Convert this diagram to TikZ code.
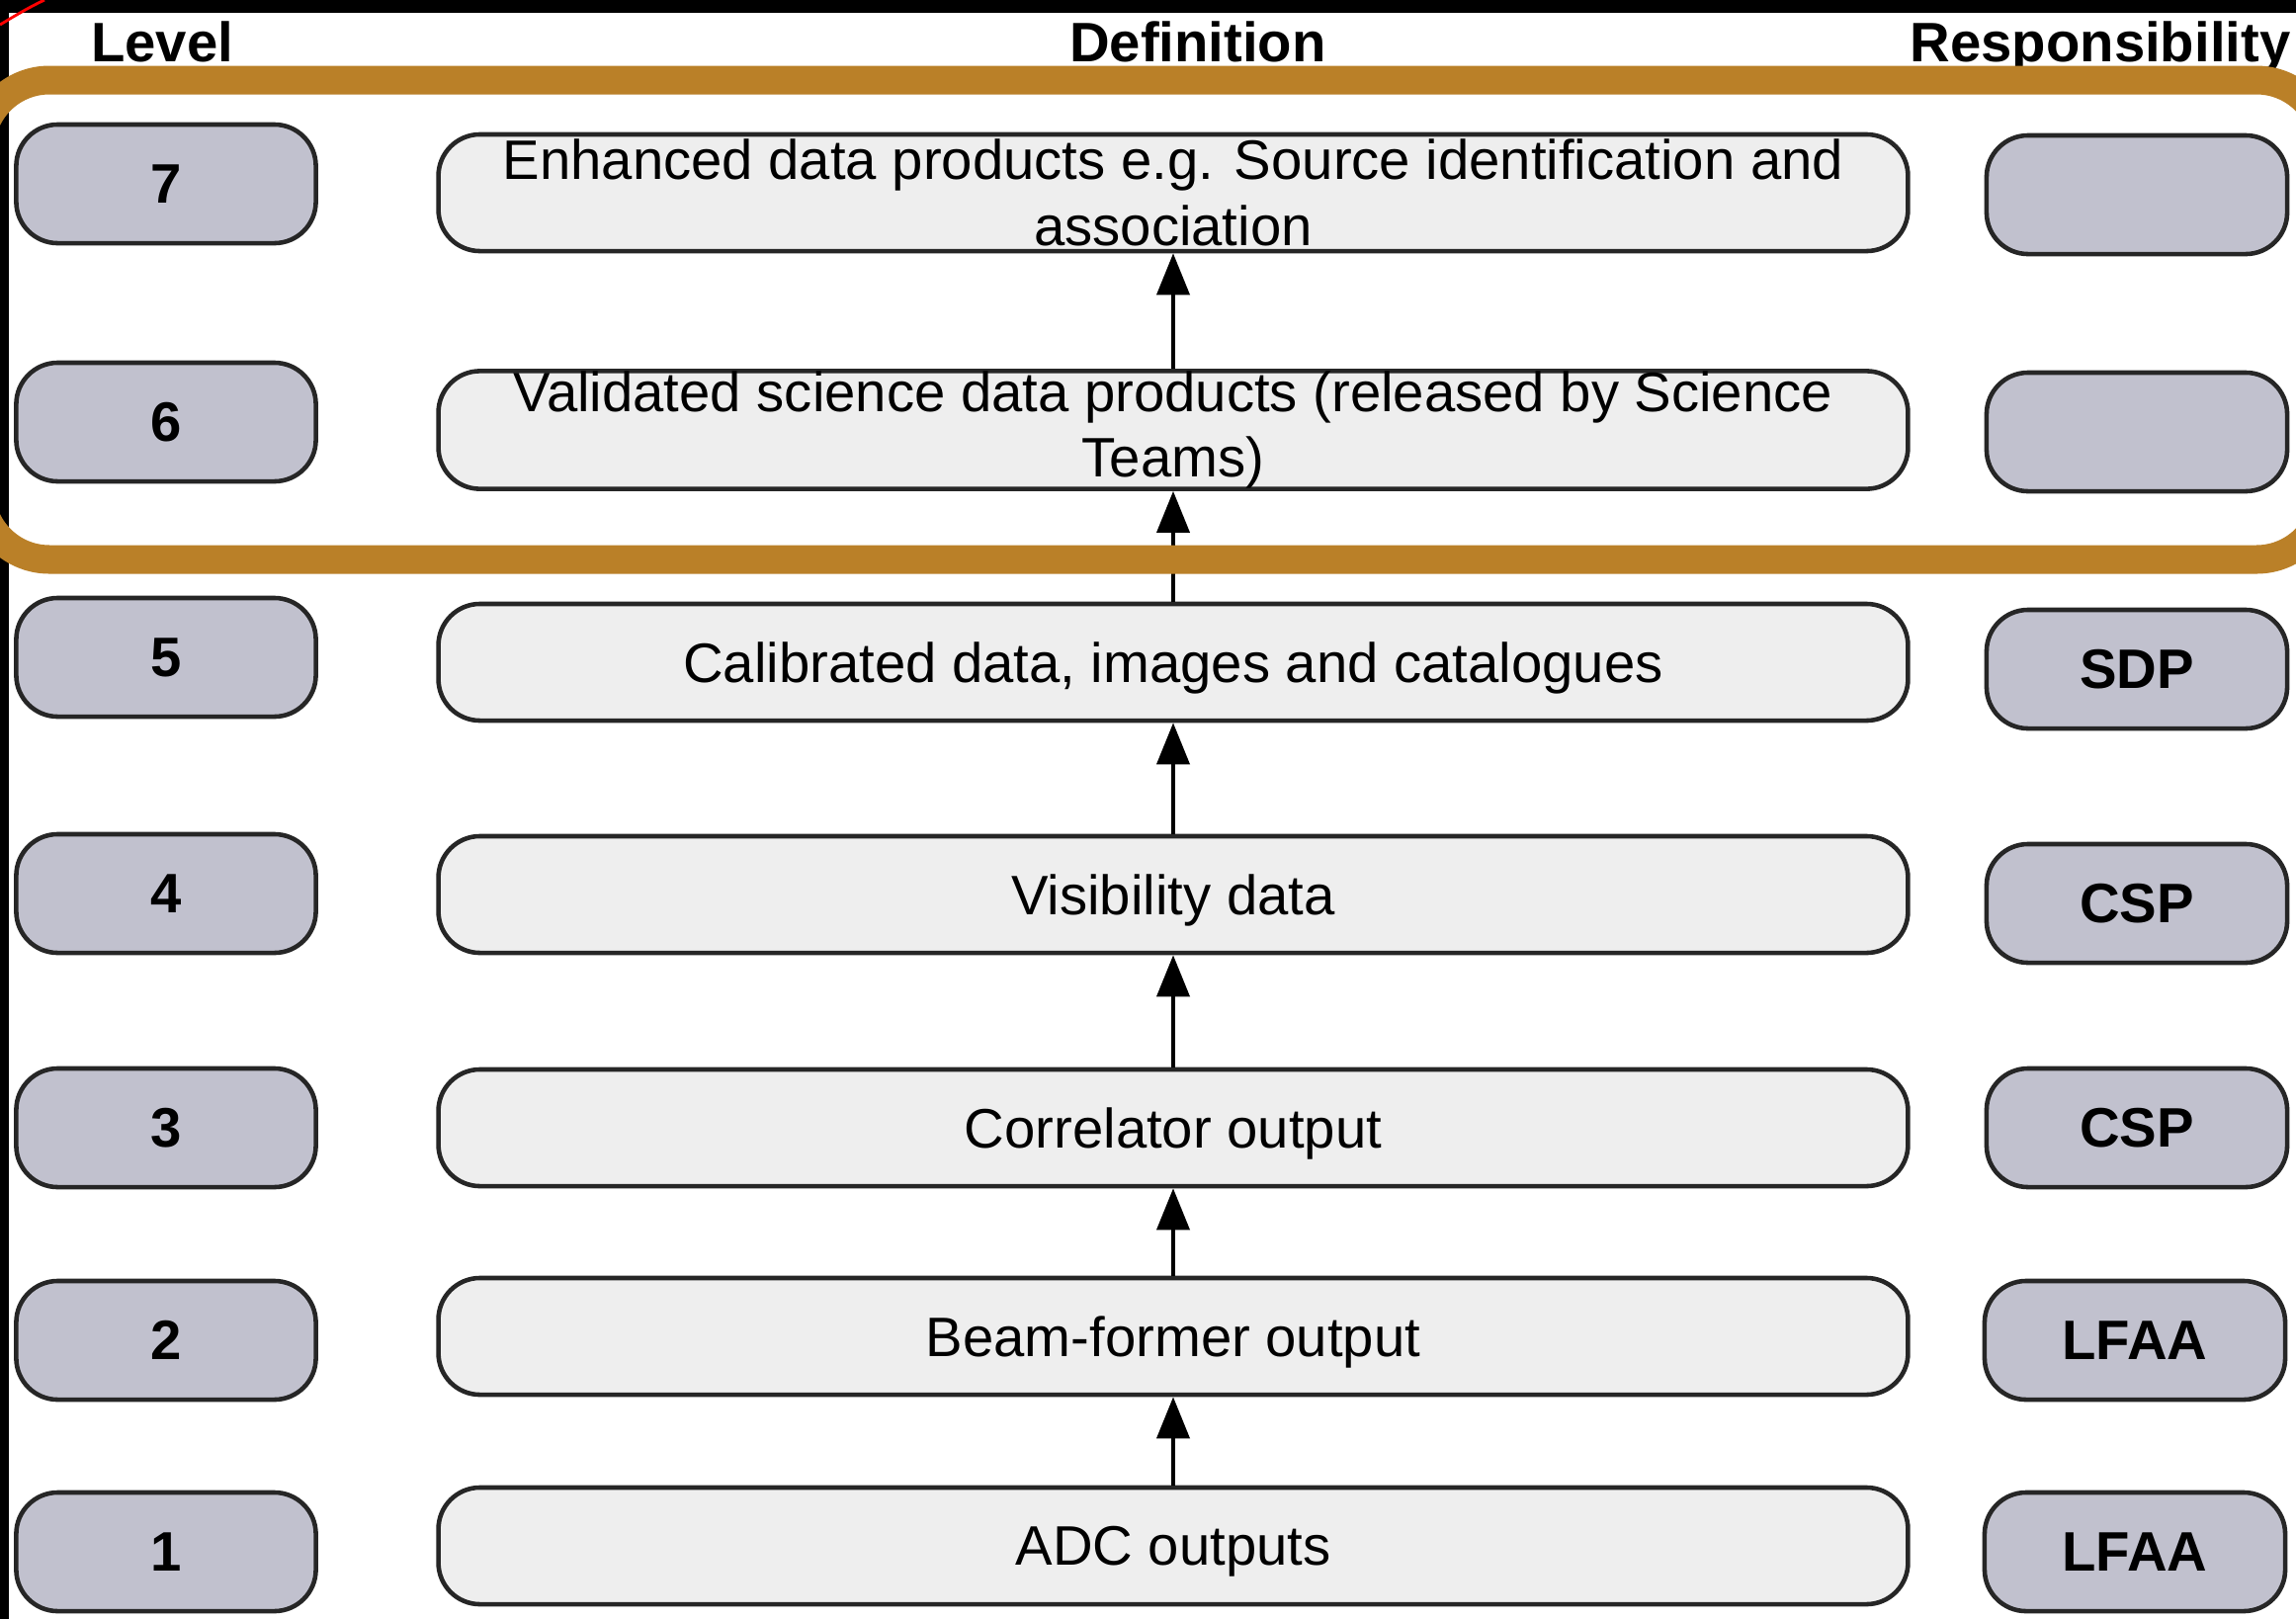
\documentclass[tikz,border=0pt]{standalone}
\usepackage{fontspec}
\setmainfont{Liberation Sans}
\usetikzlibrary{arrows.meta}
\definecolor{levelgray}{RGB}{193,193,206}
\definecolor{defgray}{RGB}{238,238,238}
\definecolor{frameorange}{RGB}{186,128,40}
\begin{document}
\begin{tikzpicture}[x=0.01cm,y=-0.01cm,
  levelbox/.style={draw=black!85,line width=1.3pt,fill=levelgray,rounded corners=0.42cm,
    minimum width=3.03cm,minimum height=1.2cm,inner sep=0pt,font=\fontsize{16}{19}\selectfont\bfseries},
  respbox/.style={levelbox,minimum width=3.04cm},
  defbox/.style={draw=black!85,line width=1.3pt,fill=defgray,rounded corners=0.42cm,
    minimum width=14.86cm,minimum height=1.18cm,inner sep=0pt,align=center,font=\fontsize{16}{19}\selectfont},
  defline/.style={defbox,text depth=0pt},
  header/.style={anchor=base,font=\fontsize{16}{19}\selectfont\bfseries},
  flowarrow/.style={line width=1.1pt,-{Triangle[length=0.42cm,width=0.33cm]}}]
\useasboundingbox (0,0) rectangle (2323,1638);
\fill[black] (0,0) rectangle (2323,13);
\fill[black] (0,0) rectangle (9,1638);
\draw[red,line width=0.8pt] (0,25) .. controls (15,16) and (30,7) .. (45,0);

\node[header] (hdlevel) at (164,62) {Level};
\node[header] (hddef) at (1212,62) {Definition};
\node[header] (hdresp) at (2125,62) {Responsibility};

\node[levelbox] (lvl7) at (168,186) {7};
\node[levelbox] (lvl6) at (168,427) {6};
\node[levelbox] (lvl5) at (168,665) {5};
\node[levelbox] (lvl4) at (168,904) {4};
\node[levelbox] (lvl3) at (168,1141) {3};
\node[levelbox] (lvl2) at (168,1356) {2};
\node[levelbox] (lvl1) at (168,1570) {1};

\node[defbox] (def7) at (1187,195) {Enhanced data products e.g. Source identification and\\association};
\node[defbox] (def6) at (1187,435) {Validated science data products (released by Science\\Teams)};
\node[defline] (def5) at (1187,670) {Calibrated data, images and catalogues};
\node[defline] (def4) at (1187,905) {Visibility data};
\node[defline] (def3) at (1187,1141) {Correlator output};
\node[defline] (def2) at (1187,1352) {Beam-former output};
\node[defline] (def1) at (1187,1564) {ADC outputs};

\node[respbox] (resp7) at (2162,197) {};
\node[respbox] (resp6) at (2162,437) {};
\node[respbox] (resp5) at (2162,677) {SDP};
\node[respbox] (resp4) at (2162,914) {CSP};
\node[respbox] (resp3) at (2162,1141) {CSP};
\node[respbox] (resp2) at (2160,1356) {LFAA};
\node[respbox] (resp1) at (2160,1570) {LFAA};

\draw[flowarrow] (def1) -- (def2);
\draw[flowarrow] (def2) -- (def3);
\draw[flowarrow] (def3) -- (def4);
\draw[flowarrow] (def4) -- (def5);
\draw[flowarrow] (def5) -- (def6);
\draw[flowarrow] (def6) -- (def7);

\draw[frameorange,line width=0.29cm,rounded corners=0.7cm] (-20,81) rectangle (2353,566);
\end{tikzpicture}
\end{document}
